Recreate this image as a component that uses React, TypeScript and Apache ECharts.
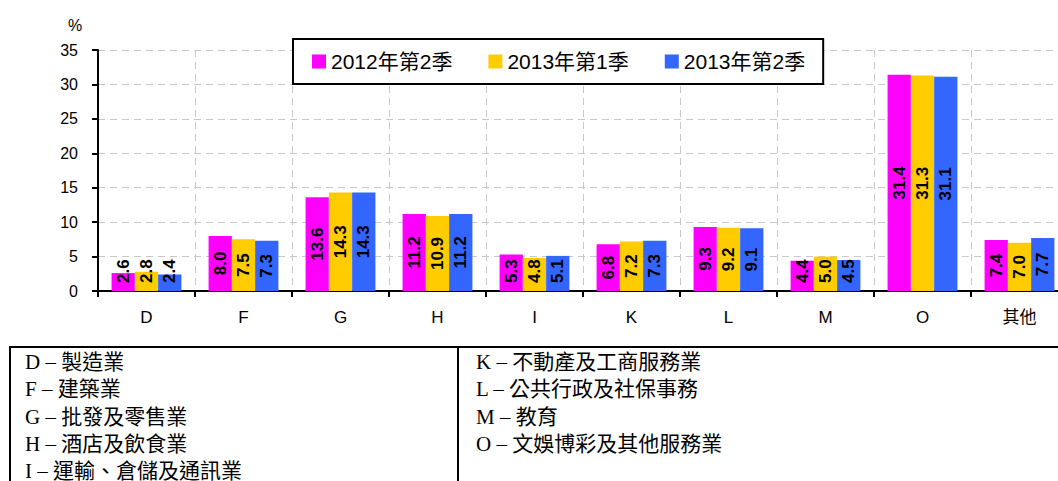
import React, { useEffect, useRef } from "react";
import * as echarts from "echarts";

const categories = ["D", "F", "G", "H", "I", "K", "L", "M", "O", "其他"];
const seriesNames = ["2012年第2季", "2013年第1季", "2013年第2季"];
const q2012_2 = [2.6, 8.0, 13.6, 11.2, 5.3, 6.8, 9.3, 4.4, 31.4, 7.4];
const q2013_1 = [2.8, 7.5, 14.3, 10.9, 4.8, 7.2, 9.2, 5.0, 31.3, 7.0];
const q2013_2 = [2.4, 7.3, 14.3, 11.2, 5.1, 7.3, 9.1, 4.5, 31.1, 7.7];
const colors = ["#FF00FF", "#FFCC00", "#3366FF"];
const yTicks = { min: 0, max: 35, interval: 5 };
const notesLeft = ["D – 製造業", "F – 建築業", "G – 批發及零售業", "H – 酒店及飲食業", "I – 運輸、倉儲及通訊業"];
const notesRight = ["K – 不動產及工商服務業", "L – 公共行政及社保事務", "M – 教育", "O – 文娛博彩及其他服務業"];

const SANS = '"Liberation Sans", Arial, "Noto Sans CJK TC", sans-serif';
const SERIF = '"Liberation Serif", "Times New Roman", "Noto Sans CJK TC", serif';

function buildData(values: number[]) {
  return values.map((v) =>
    v < 6
      ? {
          value: v,
          label: { position: "insideBottom", align: "left", verticalAlign: "middle", distance: 8 },
        }
      : { value: v }
  );
}

export default function App() {
  const ref = useRef<HTMLDivElement>(null);
  useEffect(() => {
    if (!ref.current) return;
    const chart = echarts.init(ref.current, null, { renderer: "svg" });
    const allSeries = [q2012_2, q2013_1, q2013_2].map((vals, i) => ({
      name: seriesNames[i],
      type: "bar",
      barGap: "0%",
      barCategoryGap: "28%",
      itemStyle: { color: colors[i] },
      label: {
        show: true,
        position: "inside",
        rotate: 90,
        color: "#000",
        fontWeight: "bold",
        fontSize: 17,
        fontFamily: SANS,
        formatter: (p: any) => Number(p.value).toFixed(1),
      },
      data: buildData(vals),
    }));

    const lineY = [362, 389, 416.5, 443.5, 470.5];
    const noteStyle = (t: string) => ({
      text: t,
      fontSize: 21,
      fontFamily: SERIF,
      fill: "#000",
      verticalAlign: "middle",
    });
    const noteTexts: any[] = [];
    notesLeft.forEach((t, i) => noteTexts.push({ type: "text", x: 25, y: lineY[i], style: noteStyle(t) }));
    notesRight.forEach((t, i) => noteTexts.push({ type: "text", x: 476, y: lineY[i], style: noteStyle(t) }));

    chart.setOption({
      animation: false,
      backgroundColor: "#fff",
      textStyle: { fontFamily: SANS },
      grid: { left: 98, top: 50, right: 0, bottom: 190, containLabel: false },
      legend: {
        data: seriesNames,
        left: 293,
        top: 39,
        padding: [12, 18, 12, 19],
        itemGap: 36,
        itemWidth: 14,
        itemHeight: 14,
        icon: "rect",
        backgroundColor: "#fff",
        borderColor: "#000",
        borderWidth: 2,
        textStyle: { fontSize: 21, color: "#000", fontFamily: SANS },
      },
      xAxis: {
        type: "category",
        data: categories,
        axisLine: { lineStyle: { color: "#000", width: 2 } },
        axisTick: { show: true, length: 6, lineStyle: { color: "#000", width: 2 } },
        axisLabel: { interval: 0, color: "#000", fontSize: 17, margin: 18, fontFamily: SANS },
        splitLine: { show: true, lineStyle: { color: "#c8c8c8", type: [7, 5], width: 1 } },
      },
      yAxis: {
        type: "value",
        min: yTicks.min,
        max: yTicks.max,
        interval: yTicks.interval,
        axisLine: { show: true, lineStyle: { color: "#000", width: 2 } },
        axisTick: { show: true, length: 6, lineStyle: { color: "#000", width: 2 } },
        axisLabel: { color: "#000", fontSize: 16, margin: 20, fontFamily: SANS },
        splitLine: { show: true, lineStyle: { color: "#c8c8c8", type: [7, 5], width: 1 } },
      },
      series: allSeries,
      graphic: [
        {
          type: "text",
          x: 75,
          y: 25,
          style: { text: "%", fontSize: 16, fontFamily: SANS, fill: "#000", align: "center", verticalAlign: "middle" },
        },
        {
          type: "rect",
          shape: { x: 10, y: 347, width: 1100, height: 200 },
          style: { fill: "none", stroke: "#000", lineWidth: 2 },
        },
        {
          type: "line",
          shape: { x1: 458, y1: 347, x2: 458, y2: 481 },
          style: { stroke: "#000", lineWidth: 2 },
        },
        ...noteTexts,
      ],
    });
    return () => chart.dispose();
  }, []);
  return (
    <div style={{ position: "absolute", left: 0, top: 0, width: 1058, height: 481, overflow: "hidden" }}>
      <div ref={ref} style={{ width: 1068, height: 481 }} />
    </div>
  );
}
